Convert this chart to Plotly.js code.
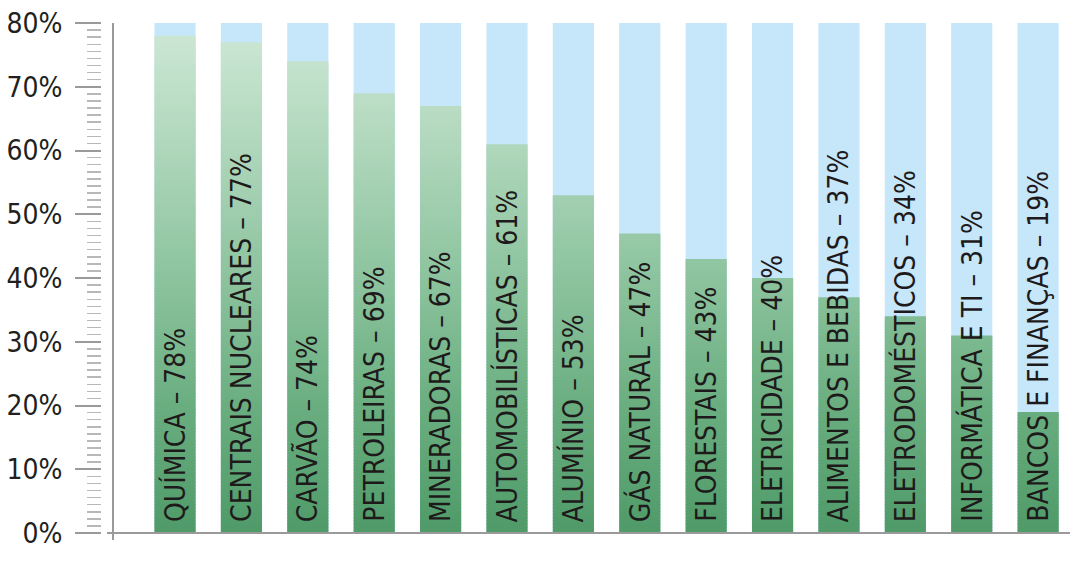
<!DOCTYPE html>
<html>
<head>
<meta charset="utf-8">
<script src="https://cdn.plot.ly/plotly-3.0.1.min.js"></script>
<style>
html,body{margin:0;padding:0;background:#fff;}
#chart{width:1070px;height:566px;}
</style>
</head>
<body>
<div id="chart"></div>
<script>
// ---- data ----
const categories = ["QUÍMICA","CENTRAIS NUCLEARES","CARVÃO","PETROLEIRAS","MINERADORAS","AUTOMOBILÍSTICAS","ALUMÍNIO","GÁS NATURAL","FLORESTAIS","ELETRICIDADE","ALIMENTOS E BEBIDAS","ELETRODOMÉSTICOS","INFORMÁTICA E TI","BANCOS E FINANÇAS"];
const values = [78, 77, 74, 69, 67, 61, 53, 47, 43, 40, 37, 34, 31, 19];
const maxValue = 80;
const yTickVals = [0, 10, 20, 30, 40, 50, 60, 70, 80];
const yTickText = ["0%", "10%", "20%", "30%", "40%", "50%", "60%", "70%", "80%"];

const FONT = '"Liberation Sans Narrow", "DejaVu Sans Condensed", "Roboto", sans-serif';
const BAR_WIDTH = 0.62;

// background (light blue) bars
const bgTrace = {
  type: 'bar',
  x: categories,
  y: categories.map(() => maxValue),
  width: BAR_WIDTH,
  marker: {color: '#c6e6f9', line: {width: 0}},
  hoverinfo: 'skip'
};

// green bars with a vertical gradient: each bar is split into thin
// slices whose colour depends on the slice height; each slice reaches
// slightly down into the one below so no seams show.
const stops = [[0, [79, 154, 104]], [0.25, [106, 174, 128]], [0.5, [140, 195, 158]], [0.75, [174, 214, 186]], [1, [206, 232, 214]]];
function gradColor(t) {
  for (let k = 1; k < stops.length; k++) {
    if (t <= stops[k][0]) {
      const a = stops[k - 1], b = stops[k];
      const f = (t - a[0]) / (b[0] - a[0]);
      const c = a[1].map((v, j) => Math.round(v + (b[1][j] - v) * f));
      return 'rgb(' + c.join(',') + ')';
    }
  }
  return 'rgb(' + stops[stops.length - 1][1].join(',') + ')';
}
const slice = 0.5;
const overlap = 0.15;
const gx = [], gy = [], gbase = [], gcol = [];
categories.forEach((c, i) => {
  for (let b = 0; b < values[i]; b += slice) {
    const top = Math.min(b + slice, values[i]);
    const lo = b > 0 ? b - overlap : 0;
    gx.push(c);
    gbase.push(lo);
    gy.push(top - lo);
    gcol.push(gradColor((b + slice / 2) / maxValue));
  }
});
const greenTrace = {
  type: 'bar',
  x: gx,
  y: gy,
  base: gbase,
  width: BAR_WIDTH,
  marker: {color: gcol, line: {width: 0}},
  hoverinfo: 'skip'
};

const annotations = categories.map((c, i) => ({
  x: c,
  y: 0,
  xref: 'x',
  yref: 'y',
  text: c + ' – ' + values[i] + '%',
  showarrow: false,
  textangle: -90,
  xanchor: 'center',
  yanchor: 'bottom',
  yshift: 9,
  font: {family: FONT, size: 28, color: '#1e1a1b'}
}));

const layout = {
  width: 1070,
  height: 566,
  margin: {l: 102, r: 0, t: 23, b: 33, pad: 0},
  paper_bgcolor: '#ffffff',
  plot_bgcolor: '#ffffff',
  showlegend: false,
  barmode: 'overlay',
  font: {family: FONT, color: '#231f20'},
  xaxis: {
    type: 'category',
    range: [-1.1, 13.48],
    showticklabels: false,
    ticks: '',
    showgrid: false,
    zeroline: false,
    showline: false,
    fixedrange: true
  },
  yaxis: {
    range: [0, maxValue],
    tickvals: yTickVals,
    ticktext: yTickText,
    ticks: 'outside',
    ticklen: 26,
    tickwidth: 2,
    tickcolor: '#9a9a9a',
    ticklabelstandoff: 7,
    tickfont: {family: FONT, size: 28, color: '#231f20'},
    minor: {
      dtick: 10 / 9,
      tick0: 0,
      ticks: 'outside',
      ticklen: 14,
      tickwidth: 1.5,
      tickcolor: '#b8b8b8',
      showgrid: false
    },
    showgrid: false,
    zeroline: false,
    showline: false,
    fixedrange: true
  },
  shapes: [
    {type: 'line', xref: 'paper', yref: 'paper', x0: 11 / 968, x1: 11 / 968, y0: -7 / 510, y1: 1,
     line: {color: '#9a9a9a', width: 2}},
    {type: 'line', xref: 'paper', yref: 'paper', x0: 5 / 968, x1: 1, y0: 0, y1: 0,
     line: {color: '#9a9a9a', width: 2}}
  ],
  annotations: annotations
};

Plotly.newPlot('chart', [bgTrace, greenTrace], layout, {displayModeBar: false, staticPlot: true});
</script>
</body>
</html>
